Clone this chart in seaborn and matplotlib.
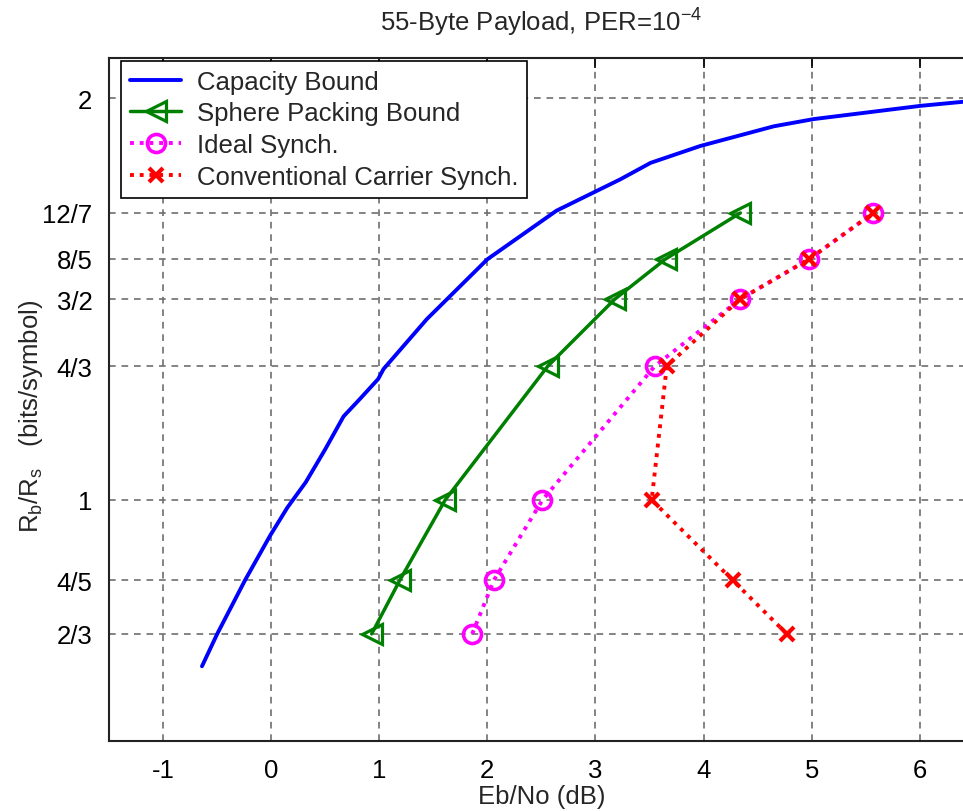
import numpy as np
import pandas as pd
import matplotlib
matplotlib.use("Agg")
import matplotlib.pyplot as plt
import seaborn as sns

# Capacity bound curve
cap_ebno = [-0.64, -0.50, -0.24, -0.01, 0.15, 0.32, 0.50, 0.67, 0.82, 0.99, 1.04,
            1.44, 2.00, 2.64, 3.23, 3.51, 3.97, 4.65, 5.02, 6.01, 6.40]
cap_rate = [0.586, 0.666, 0.801, 0.911, 0.981, 1.044, 1.126, 1.208, 1.251, 1.301, 1.326,
            1.450, 1.599, 1.720, 1.798, 1.839, 1.881, 1.930, 1.948, 1.981, 1.991]

# code rates
rates = [2/3, 4/5, 1, 4/3, 3/2, 8/5, 12/7]
rate_labels = ['2/3', '4/5', '1', '4/3', '3/2', '8/5', '12/7', '2']

sphere_ebno = [0.93, 1.19, 1.61, 2.56, 3.18, 3.65, 4.34]
ideal_ebno = [1.86, 2.06, 2.51, 3.55, 4.34, 4.98, 5.57]
conv_ebno = [4.77, 4.27, 3.52, 3.66, 4.34, 4.98, 5.57]

sns.set_style("white")
plt.rcParams['font.family'] = ['Liberation Sans', 'DejaVu Sans']
plt.rcParams['mathtext.default'] = 'regular'
plt.rcParams['axes.unicode_minus'] = False
FS = 18.5

fig = plt.figure(figsize=(9.63, 8.12), dpi=100)
ax = fig.add_axes([109/963, 1 - 742/812, 8*108.1/963, 683/812])

sns.lineplot(x=cap_ebno, y=cap_rate, ax=ax, color='#0000ff', linewidth=2.8,
             sort=False, estimator=None, label='Capacity Bound')
sns.lineplot(x=sphere_ebno, y=rates, ax=ax, color='#008000', linewidth=2.5,
             marker='<', markersize=15, markerfacecolor='none', markeredgecolor='#008000',
             markeredgewidth=2.3, sort=False, estimator=None, label='Sphere Packing Bound')
sns.lineplot(x=ideal_ebno, y=rates, ax=ax, color='#ff00ff', linewidth=2.8,
             linestyle=(0, (1, 1.5)), marker='o', markersize=13, markerfacecolor='none',
             markeredgecolor='#ff00ff', markeredgewidth=2.6, sort=False, estimator=None,
             label='Ideal Synch.')
sns.lineplot(x=conv_ebno, y=rates, ax=ax, color='#ff0000', linewidth=2.8,
             linestyle=(0, (1, 1.5)), marker='x', markersize=10, markeredgecolor='#ff0000',
             markeredgewidth=3, sort=False, estimator=None,
             label='Conventional Carrier Synch.')

ax.set_xlim(-1.5, 6.5)
ax.set_ylim(0.4, 2.1)
ax.set_xticks(range(-1, 7))
ax.set_yticks(rates + [2])
ax.set_yticklabels(rate_labels)

ax.grid(True, color='#6e6e6e', linestyle=(0, (4, 3.5)), linewidth=1.2)
ax.tick_params(direction='in', length=7, width=1.2, top=True, right=True,
               labelsize=FS, pad=12, colors='black')
for s in ax.spines.values():
    s.set_visible(True)
    s.set_color('#222222')
    s.set_linewidth(1.5)

ax.set_title('55-Byte Payload, PER=10$^{-4}$', fontsize=FS, pad=20)
ax.set_xlabel('Eb/No (dB)', fontsize=FS, labelpad=2)
ax.set_ylabel('R$_b$/R$_s$   (bits/symbol)', fontsize=FS)
ax.yaxis.set_label_coords(-0.074, 0.477)

leg = ax.legend(loc='upper left', bbox_to_anchor=(0.014, 0.996), borderaxespad=0,
                frameon=True, fancybox=False, edgecolor='black', framealpha=1,
                fontsize=FS, handlelength=2.0, handletextpad=0.6, labelspacing=0.3,
                borderpad=0.35)
leg.get_frame().set_linewidth(1.2)

fig.savefig('out.png', dpi=100)
